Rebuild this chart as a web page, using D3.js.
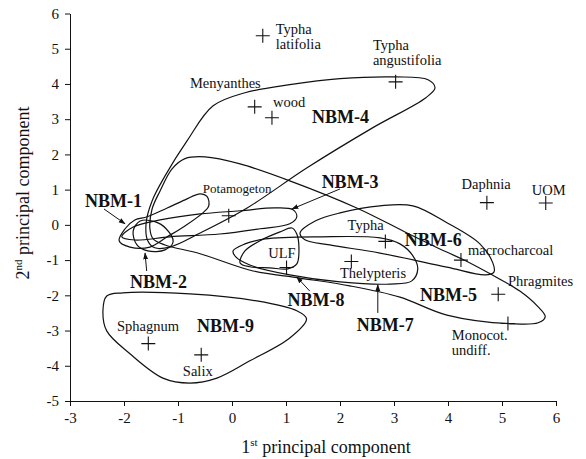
<!DOCTYPE html>
<html><head><meta charset="utf-8">
<script src="https://cdn.jsdelivr.net/npm/d3@7"></script>
<style>body{margin:0;background:#fff}</style>
</head><body><svg id="c" width="586" height="459"></svg>
<script>
// ---------- data ----------
const xTicks = [-3,-2,-1,0,1,2,3,4,5,6];
const yTicks = [-5,-4,-3,-2,-1,0,1,2,3,4,5,6];

const speciesNames = ["Typha latifolia","Typha angustifolia","Menyanthes","wood","Potamogeton","Daphnia","UOM","Typha","macrocharcoal","Thelypteris","Phragmites","Monocot. undiff.","ULF","Sphagnum","Salix"];
const speciesPC1 = [0.57, 3.03, 0.42, 0.74, -0.06, 4.72, 5.81, 2.84, 4.24, 2.21, 4.93, 5.11, 1.01, -1.55, -0.57];
const speciesPC2 = [5.37, 4.06, 3.35, 3.04, 0.26, 0.63, 0.62, -0.47, -1.00, -1.04, -1.97, -2.80, -1.21, -3.37, -3.69];

// label text lines and anchor (first baseline, left) in PC units
const speciesLabelLines = [["Typha","latifolia"],["Typha","angustifolia"],["Menyanthes"],["wood"],["Potamogeton"],["Daphnia"],["UOM"],["Typha"],["macrocharcoal"],["Thelypteris"],["Phragmites"],["Monocot.","undiff."],["ULF"],["Sphagnum"],["Salix"]];
const speciesLabelPC1 = [0.81, 2.61, -0.78, 0.76, -0.54, 4.25, 5.55, 2.14, 4.37, 2.00, 5.11, 4.07, 0.67, -2.13, -0.91];
const speciesLabelPC2 = [5.43, 4.97, 3.89, 3.35, 0.91, 1.02, 0.85, -0.14, -0.85, -1.51, -1.73, -3.27, -0.94, -3.01, -4.29];

const groupNames = ["NBM-1","NBM-2","NBM-3","NBM-4","NBM-5","NBM-6","NBM-7","NBM-8","NBM-9"];
const groupLabelPC1 = [-2.72, -1.89, 1.66, 1.48, 3.48, 3.20, 2.31, 1.03, -0.65];
const groupLabelPC2 = [0.51, -1.79, 1.05, 2.90, -2.16, -0.60, -3.01, -2.30, -3.04];

// cluster outlines in PC units
const outlineNBM1 = [[-2.09,-0.45],[-1.98,-0.11],[-1.80,0.14],[-1.57,0.23],[-1.20,0.48],[-0.87,0.71],[-0.59,0.88],[-0.46,0.80],[-0.43,0.54],[-0.54,0.34],[-0.87,-0.03],[-1.20,-0.34],[-1.52,-0.63],[-1.89,-0.63]];
const outlineNBM2 = [[-1.83,-0.17],[-1.70,0.11],[-1.43,0.09],[-1.22,-0.11],[-1.09,-0.48],[-1.24,-0.71],[-1.56,-0.74],[-1.76,-0.57]];
const outlineNBM3 = [[-2.04,-0.34],[-1.83,-0.06],[-1.33,0.14],[-0.59,0.31],[0.15,0.40],[0.79,0.48],[1.13,0.43],[1.20,0.23],[1.07,0.03],[0.52,-0.11],[-0.23,-0.26],[-1.15,-0.34],[-1.80,-0.43]];
const outlineNBM4 = [[-1.56,-0.45],[-1.59,0.06],[-1.48,0.68],[-1.24,1.39],[-0.83,2.39],[-0.35,3.38],[0.24,3.75],[1.07,3.98],[2.00,4.15],[3.02,4.20],[3.63,4.12],[3.76,3.89],[3.59,3.61],[2.61,2.76],[1.39,1.62],[0.28,0.48],[-0.59,-0.23],[-1.15,-0.63],[-1.43,-0.65]];
const outlineNBM5 = [[-1.52,-0.11],[-1.48,0.45],[-1.33,0.97],[-1.11,1.59],[-0.87,1.88],[-0.50,1.93],[0.15,1.73],[1.07,1.25],[2.31,0.48],[3.24,-0.23],[3.80,-0.65],[4.26,-0.97],[4.78,-1.39],[5.33,-1.88],[5.67,-2.33],[5.80,-2.61],[5.67,-2.78],[5.20,-2.81],[3.98,-2.56],[3.11,-2.05],[2.18,-1.73],[1.26,-1.51],[0.39,-1.31],[-0.59,-0.82],[-1.24,-0.57],[-1.46,-0.40]];
const outlineNBM6 = [[1.26,-0.23],[1.54,0.11],[2.00,0.34],[2.74,0.54],[3.35,0.54],[3.98,0.06],[4.59,-0.54],[4.83,-1.08],[4.85,-1.34],[4.69,-1.42],[3.98,-1.20],[2.74,-0.80],[1.81,-0.57],[1.35,-0.42]];
const outlineNBM7 = [[0.02,-0.74],[0.24,-0.54],[0.61,-0.40],[1.63,-0.34],[2.74,-0.37],[3.11,-0.54],[3.35,-0.88],[3.44,-1.25],[3.33,-1.59],[2.93,-1.68],[2.00,-1.62],[1.07,-1.42],[0.33,-1.14],[0.07,-0.91]];
const outlineNBM8 = [[0.15,-1.08],[0.24,-0.74],[0.52,-0.45],[0.89,-0.20],[1.11,-0.09],[1.20,-0.26],[1.24,-0.74],[1.20,-1.11],[1.03,-1.25],[0.70,-1.22],[0.33,-1.19]];
const outlineNBM9 = [[-2.32,-2.02],[-2.02,-1.93],[-0.78,-1.96],[0.46,-2.16],[1.20,-2.44],[1.38,-2.67],[1.07,-3.21],[0.33,-3.86],[-0.28,-4.35],[-0.78,-4.49],[-1.28,-4.35],[-1.89,-3.66],[-2.32,-3.01],[-2.39,-2.44]];
const outlines = [outlineNBM1,outlineNBM2,outlineNBM3,outlineNBM4,outlineNBM5,outlineNBM6,outlineNBM7,outlineNBM8,outlineNBM9];

// label arrows: [fromPC1, fromPC2, toPC1, toPC2]
const arrowGroups = ["NBM-1","NBM-2","NBM-3","NBM-7","NBM-8"];
const arrowFrom = [[-2.37,0.45],[-1.58,-1.31],[2.00,1.02],[2.70,-2.50],[1.44,-1.88]];
const arrowTo = [[-1.98,0.03],[-1.61,-0.80],[1.11,0.45],[2.70,-1.70],[1.20,-1.48]];

// ---------- drawing ----------
const svg = d3.select("#c");
const FONT = "'Liberation Serif','Times New Roman',serif";
const x = d3.scaleLinear().domain([-3,6]).range([70,556]);
const y = d3.scaleLinear().domain([-5,6]).range([401,13.5]);

svg.append("defs").append("marker")
  .attr("id","ah").attr("viewBox","0 0 10 10").attr("refX",9).attr("refY",5)
  .attr("markerWidth",7).attr("markerHeight",7).attr("orient","auto-start-reverse")
  .append("path").attr("d","M0,1.5L10,5L0,8.5Z").attr("fill","#111");

const line = d3.line().x(d=>x(d[0])).y(d=>y(d[1])).curve(d3.curveCatmullRomClosed.alpha(0.5));
svg.append("g").selectAll("path").data(outlines).join("path")
  .attr("d", line).attr("fill","none").attr("stroke","#111").attr("stroke-width",1.2);

// axes
const xa = svg.append("g").attr("transform",`translate(0,${y(-5)})`)
  .call(d3.axisBottom(x).tickValues(xTicks).tickSize(5).tickSizeOuter(0).tickPadding(6).tickFormat(d=>String(d)));
const ya = svg.append("g").attr("transform",`translate(${x(-3)},0)`)
  .call(d3.axisLeft(y).tickValues(yTicks).tickSize(5).tickSizeOuter(0).tickPadding(6).tickFormat(d=>String(d)));
[xa,ya].forEach(g=>{
  g.selectAll("text").attr("font-family",FONT).attr("font-size",15).attr("fill","#111");
  g.selectAll("line,path").attr("stroke","#111");
});

// markers
svg.append("g").selectAll("path").data(speciesNames).join("path")
  .attr("transform",(d,i)=>`translate(${x(speciesPC1[i])},${y(speciesPC2[i])})`)
  .attr("d","M-7,0H7M0,-7V7").attr("stroke","#111").attr("stroke-width",1.1);

// species labels
const sl = svg.append("g").attr("font-family",FONT).attr("fill","#111");
speciesNames.forEach((n,i)=>{
  const t = sl.append("text").attr("x",x(speciesLabelPC1[i])).attr("y",y(speciesLabelPC2[i]))
    .attr("font-size", n==="Potamogeton"?13:14.5);
  speciesLabelLines[i].forEach((s,j)=>{
    t.append("tspan").attr("x",x(speciesLabelPC1[i])).attr("dy",j===0?0:15).text(s);
  });
});

// group labels
svg.append("g").selectAll("text").data(groupNames).join("text")
  .attr("x",(d,i)=>x(groupLabelPC1[i])).attr("y",(d,i)=>y(groupLabelPC2[i]))
  .attr("font-family",FONT).attr("font-weight","bold").attr("font-size",18).attr("fill","#111")
  .text(d=>d);

// arrows
svg.append("g").selectAll("line").data(arrowGroups).join("line")
  .attr("x1",(d,i)=>x(arrowFrom[i][0])).attr("y1",(d,i)=>y(arrowFrom[i][1]))
  .attr("x2",(d,i)=>x(arrowTo[i][0])).attr("y2",(d,i)=>y(arrowTo[i][1]))
  .attr("stroke","#111").attr("stroke-width",1).attr("marker-end","url(#ah)");

// axis titles
const xt = svg.append("text").attr("x",326).attr("y",453).attr("text-anchor","middle")
  .attr("font-family",FONT).attr("font-size",18).attr("fill","#111");
xt.append("tspan").text("1");
xt.append("tspan").attr("font-size",11).attr("dy",-7).text("st");
xt.append("tspan").attr("dy",7).text(" principal component");

const yt = svg.append("text").attr("transform","translate(29,193) rotate(-90)").attr("text-anchor","middle")
  .attr("font-family",FONT).attr("font-size",18).attr("fill","#111");
yt.append("tspan").text("2");
yt.append("tspan").attr("font-size",11).attr("dy",-7).text("nd");
yt.append("tspan").attr("dy",7).text(" principal component");
</script></body></html>
